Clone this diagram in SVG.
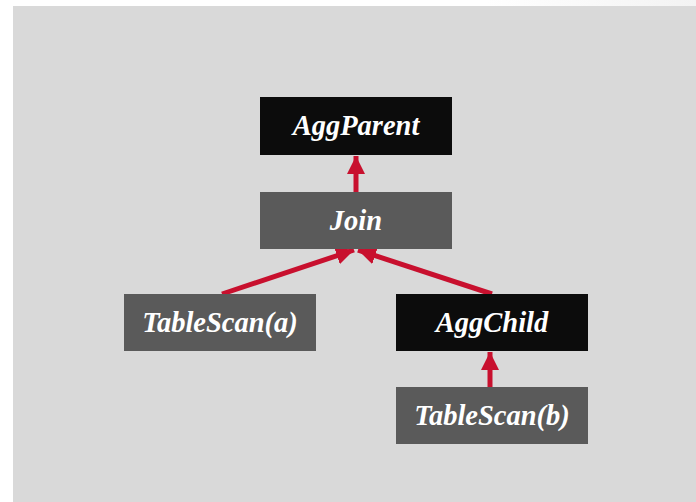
<svg xmlns="http://www.w3.org/2000/svg" width="696" height="502" viewBox="0 0 696 502">
<defs>
<linearGradient id="topfade" x1="0" y1="0" x2="1" y2="0">
<stop offset="0.7" stop-color="#ffffff"/>
<stop offset="1" stop-color="#f3f3f3"/>
</linearGradient>
<marker id="ah" viewBox="0 0 10 10" refX="10" refY="5" markerWidth="3.6" markerHeight="3.6" orient="auto" markerUnits="strokeWidth">
<path d="M0,0 L10,5 L0,10 z" fill="#c8102e"/>
</marker>
</defs>
<style>
.dark{fill:#0c0c0c}
.mid{fill:#5a5a5a}
.lbl{font-family:"Liberation Serif","DejaVu Serif",serif;font-style:italic;font-weight:bold;font-size:28.5px;fill:#ffffff;text-anchor:middle}
.edge{stroke:#c8102e;stroke-width:5;fill:none;marker-end:url(#ah)}
</style>
<rect x="0" y="0" width="696" height="502" fill="url(#topfade)"/>
<rect x="13" y="6" width="683" height="496" fill="#d9d9d9"/>
<g id="connectors">
<line class="edge" x1="356" y1="192" x2="356" y2="156"/>
<line class="edge" x1="222" y1="294" x2="354" y2="250"/>
<line class="edge" x1="492" y1="294" x2="358" y2="250"/>
<line class="edge" x1="490" y1="387" x2="490" y2="352"/>
</g>
<g id="AggParent">
<rect class="dark" x="260" y="97" width="192" height="58"/>
<text class="lbl" x="356" y="135">AggParent</text>
</g>
<g id="Join">
<rect class="mid" x="260" y="192" width="192" height="57"/>
<text class="lbl" x="356" y="230">Join</text>
</g>
<g id="TableScanA">
<rect class="mid" x="124" y="294" width="192" height="57"/>
<text class="lbl" x="220" y="332">TableScan(a)</text>
</g>
<g id="AggChild">
<rect class="dark" x="396" y="294" width="192" height="57"/>
<text class="lbl" x="492" y="332">AggChild</text>
</g>
<g id="TableScanB">
<rect class="mid" x="396" y="387" width="192" height="57"/>
<text class="lbl" x="492" y="425">TableScan(b)</text>
</g>
</svg>
